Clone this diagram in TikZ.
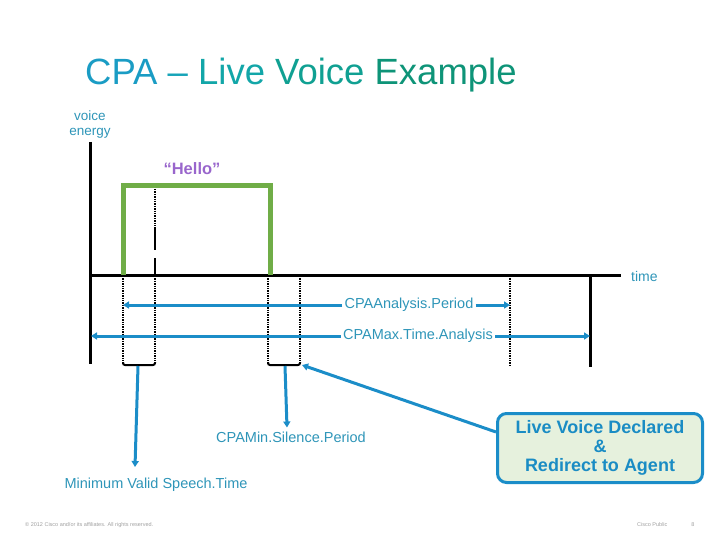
\documentclass[tikz,border=0pt]{standalone}
\usepackage{fontspec}
\setmainfont{Liberation Sans}
\usetikzlibrary{arrows.meta}
\definecolor{lblue}{HTML}{2E95B8}
\definecolor{ablue}{HTML}{1B8DC8}
\definecolor{boxtext}{HTML}{1A8CC4}
\definecolor{boxfill}{HTML}{E6F1DD}
\definecolor{vgreen}{HTML}{70AD47}
\definecolor{hpurple}{HTML}{9966CC}
\definecolor{tA}{HTML}{1A9CC4}
\definecolor{tB}{HTML}{16A4B8}
\definecolor{tC}{HTML}{12A6A8}
\definecolor{tD}{HTML}{10A092}
\definecolor{tE}{HTML}{0E9478}
\definecolor{foot}{HTML}{A0A0A0}
\begin{document}
\begin{tikzpicture}[x=1pt,y=-1pt,
  lbl/.style={font=\fontsize{14.5}{16}\selectfont, text=lblue, inner sep=2pt},
  axisline/.style={line width=3pt, black},
  dotline/.style={line width=2.5pt, black, dash pattern=on 1.4pt off 1pt},
  brk/.style={line width=2pt, black, rounded corners=2pt},
  bluearr/.style={line width=3pt, ablue, -{Triangle[length=6pt,width=7pt]}},
  lvbox/.style={draw=ablue, line width=3pt, fill=boxfill, rounded corners=9pt,
    minimum width=205pt, minimum height=69pt, align=center, text=boxtext,
    font=\bfseries\fontsize{18}{19}\selectfont, inner sep=0pt},
  footer/.style={font=\fontsize{5.5}{6}\selectfont, text=foot, inner sep=0pt}
]
\useasboundingbox (0,0) rectangle (720,540);

% title
\node[anchor=base west, inner sep=0pt, font=\fontsize{36.5}{40}\selectfont] (title) at (85,85)
  {\textcolor{tA}{CPA} \textcolor{tB}{–} \textcolor{tC}{Live} \textcolor{tD}{Voice} \textcolor{tE}{Example}};

% axis labels
\node[align=center, font=\fontsize{13.5}{15}\selectfont, text=lblue, inner sep=0pt] (ve) at (90,125) {voice\\energy};
\node[anchor=west, font=\fontsize{14}{16}\selectfont, text=lblue, inner sep=0pt] (tm) at (631,276) {time};
\node[font=\bfseries\fontsize{16.5}{18}\selectfont, text=hpurple, inner sep=0pt] (hello) at (192,169) {“Hello”};

% coordinates
\coordinate (ytop) at (90,142);
\coordinate (ybot) at (90,364);
\coordinate (xl) at (90,275);
\coordinate (xr) at (621,275);

% axes
\draw[axisline] (ytop) -- (ybot);
\draw[axisline] (xl) -- (xr);

% green speech pulse
\coordinate (g1) at (123,275);
\coordinate (g2) at (270,275);
\draw[vgreen, line width=5pt] (g1) -- (123,186) -- (270,186) -- (g2);

% marker above axis at 155
\draw[dotline] (155,189) -- (155,227);
\draw[line width=2pt] (155,227) -- (155,250);
\draw[line width=2pt] (155,258) -- (155,275);

% dotted verticals below axis
\coordinate (d1t) at (123,276); \coordinate (d1b) at (123,362);
\coordinate (d2t) at (155,276); \coordinate (d2b) at (155,362);
\coordinate (d3t) at (268,276); \coordinate (d3b) at (268,362);
\coordinate (d4t) at (300,276); \coordinate (d4b) at (300,362);
\coordinate (d5t) at (510,276); \coordinate (d5b) at (510,365);
\draw[dotline] (d1t) -- (d1b);
\draw[dotline] (d2t) -- (d2b);
\draw[dotline] (d3t) -- (d3b);
\draw[dotline] (d4t) -- (d4b);
\draw[dotline] (d5t) -- (d5b);
\coordinate (s6t) at (590,275); \coordinate (s6b) at (590,367);
\draw[axisline] (s6t) -- (s6b);

% brackets
\draw[brk] (d1b) -- (123,365) -- (155,365) -- (d2b);
\draw[brk] (d3b) -- (268,365) -- (300,365) -- (d4b);
\coordinate (b1) at (138,366);
\coordinate (b2) at (285,366);
\coordinate (b2r) at (302,365);

% analysis period arrow
\coordinate (apl) at (123,305);
\coordinate (apr) at (510,305);
\node[lbl] (ap) at (409,305) {CPAAnalysis.Period};
\draw[bluearr] (ap.west) -- (apl);
\draw[bluearr] (ap.east) -- (apr);

% max time analysis arrow
\coordinate (mtl) at (91,336);
\coordinate (mtr) at (590,336);
\node[lbl] (mt) at (418,336) {CPAMax.Time.Analysis};
\draw[bluearr] (mt.west) -- (mtl);
\draw[bluearr] (mt.east) -- (mtr);

% lower labels
\node[lbl, inner sep=0pt] (mv) at (156,485) {Minimum Valid Speech.Time};
\node[lbl, inner sep=0pt] (ms) at (291,437) {CPAMin.Silence.Period};
\draw[bluearr] (b1) -- ([xshift=-21pt,yshift=11pt]mv.north);
\draw[bluearr] (b2) -- ([xshift=-4pt,yshift=4pt]ms.north);

% live voice box
\node[lvbox] (lv) at (600,448) {Live Voice Declared\\\&\\Redirect to Agent};
\draw[bluearr] ([yshift=16pt]lv.west) -- (b2r);

% footer
\node[footer, anchor=west] (f1) at (25,525) {© 2012 Cisco and/or its affiliates. All rights reserved.};
\node[footer, anchor=west] (f2) at (637,525) {Cisco Public};
\node[footer] (f3) at (693,525) {8};
\end{tikzpicture}
\end{document}
